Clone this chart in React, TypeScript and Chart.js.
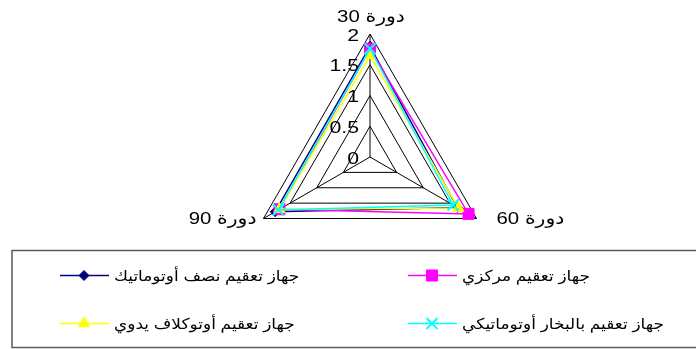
import React, { useEffect, useRef } from "react";
import { Chart, registerables } from "chart.js";
import { drawPoint } from "chart.js/helpers";

Chart.register(...registerables);

const categories = ["دورة 30", "دورة 60", "دورة 90"];
const labelDirections: CanvasDirection[] = ["rtl", "ltr", "rtl"];
const seriesNames = [
  "جهاز تعقيم نصف أوتوماتيك",
  "جهاز تعقيم مركزي",
  "جهاز تعقيم أوتوكلاف يدوي",
  "جهاز تعقيم بالبخار أوتوماتيكي",
];
const semiAutoValues = [1.8, 1.64, 1.78];
const centralValues = [1.76, 1.85, 1.7];
const manualAutoclaveValues = [1.65, 1.66, 1.7];
const steamAutoValues = [1.76, 1.56, 1.72];
const tickValues = [0, 0.5, 1, 1.5, 2];
const tickLabels = ["0", "0.5", "1", "1.5", "2"];

const FONT = "Arial, 'Liberation Sans', 'DejaVu Sans', sans-serif";

function fillScaled(
  ctx: CanvasRenderingContext2D,
  text: string,
  x: number,
  y: number,
  align: CanvasTextAlign,
  sx: number,
  dir: CanvasDirection = "ltr"
) {
  ctx.save();
  ctx.translate(x, y);
  ctx.scale(sx, 1);
  ctx.direction = dir;
  ctx.textAlign = align;
  ctx.fillText(text, 0, 0);
  ctx.restore();
}

const overlayPlugin = {
  id: "overlay",
  afterDraw(chart: any) {
    const ctx: CanvasRenderingContext2D = chart.ctx;
    const scale = chart.scales.r;
    const r = scale.drawingArea;
    ctx.save();
    ctx.fillStyle = "#000";
    ctx.textBaseline = "middle";
    // tick labels
    ctx.font = `17px ${FONT}`;
    tickValues.forEach((v, i) => {
      const p = scale.getPointPositionForValue(0, v);
      fillScaled(ctx, tickLabels[i], scale.xCenter - 11, p.y + 2, "right", 1.25);
    });
    // point labels
    ctx.font = `17px ${FONT}`;
    categories.forEach((lab, i) => {
      const p = scale.getPointPosition(i, r);
      if (i === 0) {
        fillScaled(ctx, lab, p.x + 1, p.y - 17, "center", 1.2, labelDirections[i]);
      } else if (i === 1) {
        fillScaled(ctx, lab, p.x + 20, p.y + 1, "left", 1.2, labelDirections[i]);
      } else {
        fillScaled(ctx, lab, p.x - 7, p.y + 1, "right", 1.2, labelDirections[i]);
      }
    });
    // legend box
    ctx.strokeStyle = "#5a5a5a";
    ctx.lineWidth = 1.5;
    ctx.strokeRect(12, 250.5, 700, 97);
    const slots = [
      { x: 60, y: 275.5 },
      { x: 408, y: 275.5 },
      { x: 60, y: 323.5 },
      { x: 408, y: 323.5 },
    ];
    ctx.font = `15px ${FONT}`;
    chart.data.datasets.forEach((ds: any, i: number) => {
      const s = slots[i];
      ctx.strokeStyle = ds.borderColor;
      ctx.lineWidth = 1.5;
      ctx.beginPath();
      ctx.moveTo(s.x, s.y);
      ctx.lineTo(s.x + 49, s.y);
      ctx.stroke();
      ctx.fillStyle = ds.pointBackgroundColor;
      ctx.strokeStyle = ds.pointBorderColor;
      ctx.lineWidth = ds.pointBorderWidth;
      drawPoint(ctx, { pointStyle: ds.pointStyle, radius: ds.pointRadius, rotation: 0, borderWidth: ds.pointBorderWidth }, s.x + 24, s.y);
      ctx.fillStyle = "#000";
      ctx.direction = "rtl";
      const w = ctx.measureText(ds.label).width * 1.13;
      ctx.direction = "ltr";
      fillScaled(ctx, ds.label, s.x + 54 + w, s.y + 1, "right", 1.13, "rtl");
    });
    ctx.restore();
  },
};

export default function App() {
  const ref = useRef<HTMLCanvasElement | null>(null);
  useEffect(() => {
    if (!ref.current) return;
    const mk = (label: string, data: number[], color: string, style: string, radius: number, bw: number, fill: string, order: number) => ({
      label,
      data,
      order,
      borderColor: color,
      backgroundColor: "transparent",
      borderWidth: 1.5,
      fill: false,
      pointStyle: style,
      pointRadius: radius,
      pointHoverRadius: radius,
      pointBackgroundColor: fill,
      pointBorderColor: color,
      pointBorderWidth: bw,
    });
    const chart = new Chart(ref.current, {
      type: "radar",
      data: {
        labels: categories,
        datasets: [
          mk(seriesNames[0], semiAutoValues, "#000080", "rectRot", 5, 1, "#000080", 3),
          mk(seriesNames[1], centralValues, "#FF00FF", "rect", 7.8, 1, "#FF00FF", 2),
          mk(seriesNames[2], manualAutoclaveValues, "#FFFF00", "triangle", 6.5, 1, "#FFFF00", 1),
          mk(seriesNames[3], steamAutoValues, "#00FFFF", "crossRot", 7.8, 2, "#00FFFF", 0),
        ] as any,
      },
      options: {
        animation: false,
        responsive: false,
        maintainAspectRatio: false,
        layout: { padding: { left: 247, right: 203, top: 34, bottom: 69 } },
        plugins: { legend: { display: false }, tooltip: { enabled: false } },
        elements: { line: { tension: 0 } },
        scales: {
          r: {
            min: 0,
            max: 2,
            ticks: { display: false, stepSize: 0.5 },
            pointLabels: { display: false },
            grid: { color: "#000", lineWidth: 1, circular: false },
            angleLines: { color: "#000", lineWidth: 1 },
          },
        },
      },
      plugins: [overlayPlugin],
    });
    return () => chart.destroy();
  }, []);
  return (
    <div style={{ position: "absolute", left: 0, top: 0, width: 696, height: 349, background: "#fff" }}>
      <canvas ref={ref} width={696} height={349} style={{ width: 696, height: 349, display: "block" }} />
    </div>
  );
}
